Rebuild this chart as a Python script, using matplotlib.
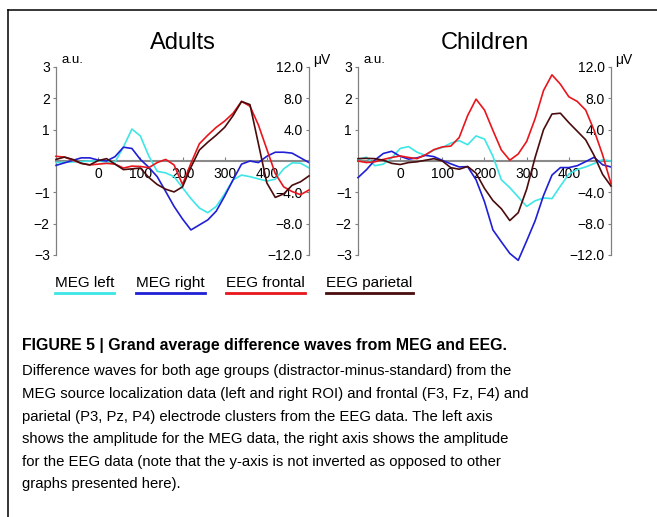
import matplotlib
matplotlib.use("Agg")
import matplotlib.pyplot as plt
from matplotlib.lines import Line2D
from matplotlib.ticker import FuncFormatter

plt.rcParams["font.family"] = ["Liberation Sans", "DejaVu Sans"]

# ── data, time in ms, MEG in a.u., EEG in µV ──
T_MS = list(range(-100, 501, 20))

ADULT_MEG_LEFT = [-0.05, -0.04, -0.03, -0.02, 0.00, 0.00, -0.03, -0.03, 0.45, 1.02,
                  0.80, 0.16, -0.33, -0.38, -0.50, -0.85, -1.20, -1.50, -1.65, -1.45,
                  -1.05, -0.60, -0.45, -0.50, -0.57, -0.64, -0.58, -0.25, -0.06, -0.07, -0.22]
ADULT_MEG_RIGHT = [-0.14, -0.06, 0.02, 0.10, 0.10, 0.03, 0.00, 0.14, 0.44, 0.40,
                   0.05, -0.20, -0.50, -0.97, -1.45, -1.85, -2.20, -2.04, -1.88, -1.60,
                   -1.12, -0.60, -0.10, 0.00, -0.05, 0.15, 0.28, 0.28, 0.25, 0.10, -0.05]
ADULT_EEG_FRONTAL = [0.60, 0.50, 0.10, -0.30, -0.50, -0.40, -0.30, -0.40, -0.90, -0.65,
                     -0.70, -0.85, -0.20, 0.20, -0.50, -3.00, -0.30, 2.20, 3.30, 4.30,
                     5.10, 6.10, 7.60, 7.00, 4.60, 1.50, -1.60, -3.30, -3.90, -4.30, -3.70]
ADULT_EEG_PARIETAL = [0.20, 0.50, 0.20, -0.30, -0.50, 0.05, 0.30, -0.40, -1.10, -1.00,
                      -0.90, -2.10, -3.00, -3.60, -3.95, -3.30, -0.80, 1.40, 2.40, 3.30,
                      4.30, 5.80, 7.60, 7.20, 2.20, -2.80, -4.65, -4.20, -3.10, -2.65, -1.90]

CHILD_MEG_LEFT = [0.05, 0.12, -0.15, -0.10, 0.10, 0.40, 0.46, 0.28, 0.18, 0.35,
                  0.43, 0.57, 0.65, 0.52, 0.80, 0.70, 0.15, -0.60, -0.85, -1.15,
                  -1.45, -1.27, -1.18, -1.20, -0.80, -0.42, -0.27, -0.19, -0.08, 0.04, 0.00]
CHILD_MEG_RIGHT = [-0.53, -0.28, 0.03, 0.24, 0.31, 0.15, 0.06, 0.10, 0.18, 0.14,
                   0.02, -0.09, -0.19, -0.18, -0.60, -1.30, -2.20, -2.58, -2.95, -3.17,
                   -2.55, -1.91, -1.10, -0.45, -0.21, -0.21, -0.15, -0.02, 0.12, -0.12, -0.19]
CHILD_EEG_FRONTAL = [0.00, -0.20, -0.10, 0.20, 0.45, 0.65, 0.45, 0.30, 0.80, 1.45,
                     1.80, 1.90, 3.00, 5.80, 7.90, 6.50, 3.90, 1.40, 0.10, 0.90,
                     2.50, 5.40, 9.00, 11.00, 9.80, 8.20, 7.60, 6.50, 3.90, 0.80, -2.90]
CHILD_EEG_PARIETAL = [0.30, 0.34, 0.30, 0.10, -0.30, -0.45, -0.20, -0.10, 0.10, 0.30,
                      0.00, -0.85, -1.05, -0.70, -1.55, -3.50, -5.05, -6.10, -7.60, -6.60,
                      -3.60, 0.45, 4.00, 6.00, 6.10, 4.90, 3.80, 2.70, 0.70, -1.70, -3.20]

LEGEND_LABELS = ["MEG left", "MEG right", "EEG frontal", "EEG parietal"]
COLORS = ["#3ee6e6", "#1f1fd6", "#e8161c", "#4a0c0c"]

MEG_TICKS = [-3, -2, -1, 1, 2, 3]
EEG_TICKS = [-12, -8, -4, 4, 8, 12]
X_TICKS = [0, 100, 200, 300, 400]

CAPTION_HEAD = "FIGURE 5 | Grand average difference waves from MEG and EEG."
CAPTION_LINES = [
    "Difference waves for both age groups (distractor-minus-standard) from the",
    "MEG source localization data (left and right ROI) and frontal (F3, Fz, F4) and",
    "parietal (P3, Pz, P4) electrode clusters from the EEG data. The left axis",
    "shows the amplitude for the MEG data, the right axis shows the amplitude",
    "for the EEG data (note that the y-axis is not inverted as opposed to other",
    "graphs presented here).",
]

W, H = 657, 517
GRAY = "#808080"

fig = plt.figure(figsize=(W / 100, H / 100), dpi=100)
renderer = fig.canvas.get_renderer()


def px_box(x0, y0, x1, y1):
    return [x0 / W, 1 - y1 / H, (x1 - x0) / W, (y1 - y0) / H]


def minus(fmt):
    return FuncFormatter(lambda v, p: fmt.format(v).replace("-", "\u2212"))


def wave(ax, values, color):
    ax.plot(T_MS, values, color=color, lw=1.2, zorder=3, clip_on=False,
            solid_joinstyle="round")


def draw_panel(left_px, title, meg_l, meg_r, eeg_f, eeg_p):
    ax = fig.add_axes(px_box(left_px, 67, left_px + 253, 255))
    ax.set_xlim(-100, 500)
    ax.set_ylim(-3, 3)
    ax.patch.set_visible(False)
    for s in ("top", "right"):
        ax.spines[s].set_visible(False)
    ax.spines["bottom"].set_position(("data", 0))
    ax.spines["bottom"].set_color("#8a8a8a")
    ax.spines["bottom"].set_linewidth(1.5)
    ax.spines["left"].set_color(GRAY)
    ax.spines["left"].set_linewidth(0.9)
    ax.set_xticks(X_TICKS)
    ax.set_yticks(MEG_TICKS)
    ax.yaxis.set_major_formatter(minus("{:.0f}"))
    ax.tick_params(axis="x", direction="in", length=3, color=GRAY, labelsize=10, pad=4)
    ax.tick_params(axis="y", direction="out", length=2.5, color=GRAY, labelsize=10, pad=2)

    wave(ax, meg_l, COLORS[0])
    wave(ax, meg_r, COLORS[1])

    ax2 = ax.twinx()
    ax2.set_ylim(-12, 12)
    for s in ("top", "bottom", "right"):
        ax2.spines[s].set_visible(False)
    ax2.spines["left"].set_position(("axes", 1.0))
    ax2.spines["left"].set_color(GRAY)
    ax2.spines["left"].set_linewidth(0.9)
    ax2.yaxis.set_ticks_position("left")
    ax2.set_yticks(EEG_TICKS)
    ax2.yaxis.set_major_formatter(minus("{:.1f}"))
    ax2.tick_params(axis="y", direction="out", length=2.5, color=GRAY, labelsize=10, pad=2)

    wave(ax2, eeg_f, COLORS[2])
    wave(ax2, eeg_p, COLORS[3])

    ax.set_title(title, fontsize=17, pad=13)
    ax.annotate("a.u.", xy=(0, 1), xycoords="axes fraction", xytext=(4, 5),
                textcoords="offset points", ha="left", va="center", fontsize=9.5)
    ax2.annotate("\u03bcV", xy=(1, 1), xycoords="axes fraction", xytext=(3, 5),
                 textcoords="offset points", ha="left", va="center", fontsize=10)


draw_panel(56, "Adults", ADULT_MEG_LEFT, ADULT_MEG_RIGHT, ADULT_EEG_FRONTAL, ADULT_EEG_PARIETAL)
draw_panel(358, "Children", CHILD_MEG_LEFT, CHILD_MEG_RIGHT, CHILD_EEG_FRONTAL, CHILD_EEG_PARIETAL)

# ── legend: label with coloured underline ──
x = 55
for label, color in zip(LEGEND_LABELS, COLORS):
    t = fig.text(x / W, 1 - 283 / H, label, fontsize=11, ha="left", va="center")
    bb = t.get_window_extent(renderer)
    fig.add_artist(Line2D([bb.x0 / W, bb.x1 / W], [1 - 293 / H] * 2,
                          color=color, lw=2, transform=fig.transFigure))
    x = bb.x1 + 21.5


# ── caption, font size fitted to the reference line widths ──
def fitted_text(y_px, s, target_w, weight="normal", size=None):
    t = fig.text(22 / W, 1 - y_px / H, s, fontsize=10, weight=weight, va="baseline")
    if size is None:
        size = 10 * target_w / t.get_window_extent(renderer).width
    t.set_fontsize(size)
    return size


fitted_text(350, CAPTION_HEAD, 488, weight="bold")
body_size = None
for i, line in enumerate(CAPTION_LINES):
    body_size = fitted_text(375.3 + 22.6 * i, line, 491, size=body_size)

# ── frame (top and left rule) ──
fig.add_artist(Line2D([8 / W, 1], [1 - 10 / H] * 2, color="black", lw=1.1,
                      transform=fig.transFigure))
fig.add_artist(Line2D([8 / W, 8 / W], [0, 1 - 10 / H], color="black", lw=1.1,
                      transform=fig.transFigure))

fig.savefig("out.png", dpi=100)
